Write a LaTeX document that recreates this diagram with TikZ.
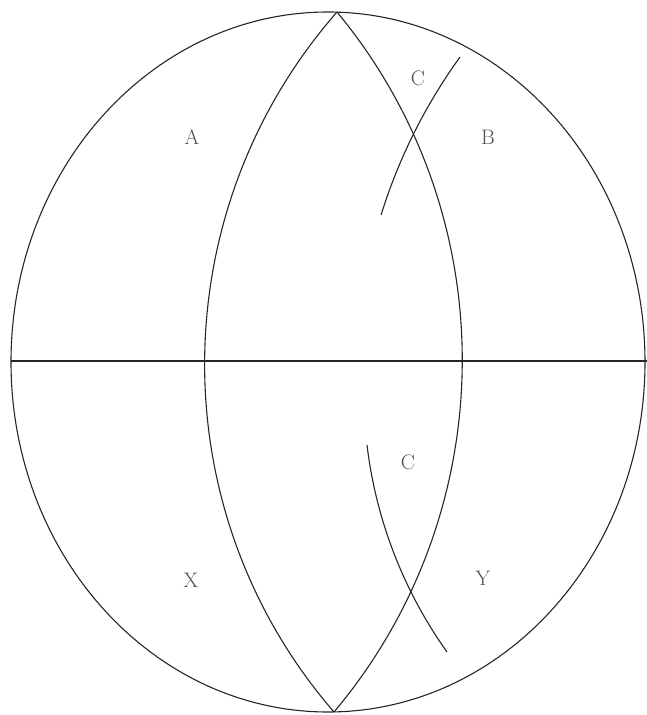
\documentclass[tikz,border=0pt]{standalone}
\begin{document}
\begin{tikzpicture}[x=1pt,y=1pt,
  ln/.style={line width=1.1pt,draw=black!85},
  lbl/.style={font=\fontsize{21}{25}\selectfont,text=black!70,inner sep=0pt}]
\useasboundingbox (0,0) rectangle (647,715);
% outer ellipse
\coordinate (O) at (328,353);
\draw[ln] (O) ellipse[x radius=317,y radius=350];
% key points
\coordinate (T) at (337,703);
\coordinate (Bt) at (334,3);
\coordinate (L) at (11,354);
\coordinate (R) at (647,354);
% equator
\draw[ln] (L) -- (R);
% left lens arc
\draw[ln] (T) .. controls (162,503) and (160,204) .. (Bt);
% right lens arc
\draw[ln] (T) .. controls (505,500) and (504,205) .. (Bt);
% upper C arc
\coordinate (C1s) at (460,658);
\draw[ln] (C1s) arc[start angle=144.15,end angle=162.72,radius=547];
% lower C arc
\coordinate (C2s) at (367,270);
\draw[ln] (C2s) arc[start angle=186.82,end angle=215.44,radius=449];
% labels
\node[lbl] (A) at (192,578) {A};
\node[lbl] (B) at (488,578) {B};
\node[lbl] (Cu) at (418,637) {C};
\node[lbl] (Cl) at (408,253) {C};
\node[lbl] (X) at (191,135) {X};
\node[lbl] (Y) at (483,137) {Y};
\end{tikzpicture}
\end{document}
